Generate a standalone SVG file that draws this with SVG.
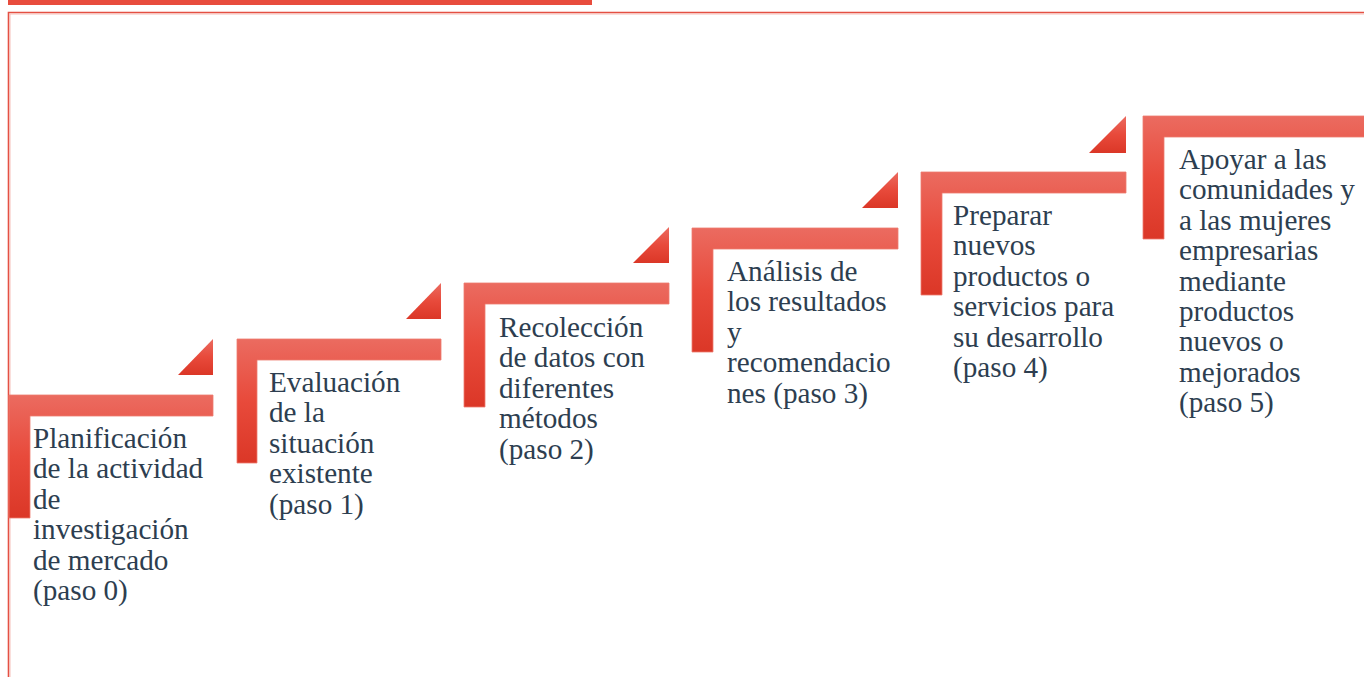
<svg xmlns="http://www.w3.org/2000/svg" width="1364" height="677" viewBox="0 0 1364 677">
<defs>
<linearGradient id="g" x1="0" y1="0" x2="0" y2="1">
<stop offset="0" stop-color="#EB6B60"/>
<stop offset="0.5" stop-color="#E84A3B"/>
<stop offset="1" stop-color="#DB3727"/>
</linearGradient>
<style>
.step{fill:url(#g);stroke:#EE7B70;stroke-width:0.8}
.tri{fill:url(#g)}
.t{font-size:29.2px;fill:#2D3E50}
</style>
</defs>
<rect x="8" y="0" width="584" height="5" fill="#E84C3D"/>
<path d="M8.5 677 V12.5 H1364" fill="none" stroke="#E45043" stroke-width="1.6"/>
<path d="M10 677 V14 H1364" fill="none" stroke="#F4B0A8" stroke-width="0.8"/>
<g font-family="'Liberation Serif', 'Times New Roman', 'DejaVu Serif', serif">
<g id="step0">
<path class="step" d="M9 395 H213 V416 H30 V518 H9 Z"/>
<polygon class="tri" points="178,375 213,375 213,339"/>
<text class="t" x="33" y="448">Planificación</text>
<text class="t" x="33" y="478.4">de la actividad</text>
<text class="t" x="33" y="508.8">de</text>
<text class="t" x="33" y="539.2">investigación</text>
<text class="t" x="33" y="569.6">de mercado</text>
<text class="t" x="33" y="600">(paso 0)</text>
</g>
<g id="step1">
<path class="step" d="M237 339 H441 V360 H257 V463 H237 Z"/>
<polygon class="tri" points="406,319 441,319 441,283"/>
<text class="t" x="269" y="392">Evaluación</text>
<text class="t" x="269" y="422.4">de la</text>
<text class="t" x="269" y="452.8">situación</text>
<text class="t" x="269" y="483.2">existente</text>
<text class="t" x="269" y="513.6">(paso 1)</text>
</g>
<g id="step2">
<path class="step" d="M464 283 H669 V304 H485 V407 H464 Z"/>
<polygon class="tri" points="633,263 669,263 669,227"/>
<text class="t" x="499" y="337">Recolección</text>
<text class="t" x="499" y="367.4">de datos con</text>
<text class="t" x="499" y="397.8">diferentes</text>
<text class="t" x="499" y="428.2">métodos</text>
<text class="t" x="499" y="458.6">(paso 2)</text>
</g>
<g id="step3">
<path class="step" d="M692 228 H898 V249 H713 V352 H692 Z"/>
<polygon class="tri" points="862,208 898,208 898,172"/>
<text class="t" x="727" y="281">Análisis de</text>
<text class="t" x="727" y="311.4">los resultados</text>
<text class="t" x="727" y="341.8">y</text>
<text class="t" x="727" y="372.2">recomendacio</text>
<text class="t" x="727" y="402.6">nes (paso 3)</text>
</g>
<g id="step4">
<path class="step" d="M921 172 H1126 V193 H942 V295 H921 Z"/>
<polygon class="tri" points="1089,153 1126,153 1126,116"/>
<text class="t" x="953" y="225">Preparar</text>
<text class="t" x="953" y="255.4">nuevos</text>
<text class="t" x="953" y="285.8">productos o</text>
<text class="t" x="953" y="316.2">servicios para</text>
<text class="t" x="953" y="346.6">su desarrollo</text>
<text class="t" x="953" y="377">(paso 4)</text>
</g>
<g id="step5">
<path class="step" d="M1143 116 H1365 V137 H1164 V239 H1143 Z"/>
<text class="t" x="1179" y="169">Apoyar a las</text>
<text class="t" x="1179" y="199.4">comunidades y</text>
<text class="t" x="1179" y="229.8">a las mujeres</text>
<text class="t" x="1179" y="260.2">empresarias</text>
<text class="t" x="1179" y="290.6">mediante</text>
<text class="t" x="1179" y="321">productos</text>
<text class="t" x="1179" y="351.4">nuevos o</text>
<text class="t" x="1179" y="381.8">mejorados</text>
<text class="t" x="1179" y="412.2">(paso 5)</text>
</g>
</g>
<g id="connectors"/>
</svg>
